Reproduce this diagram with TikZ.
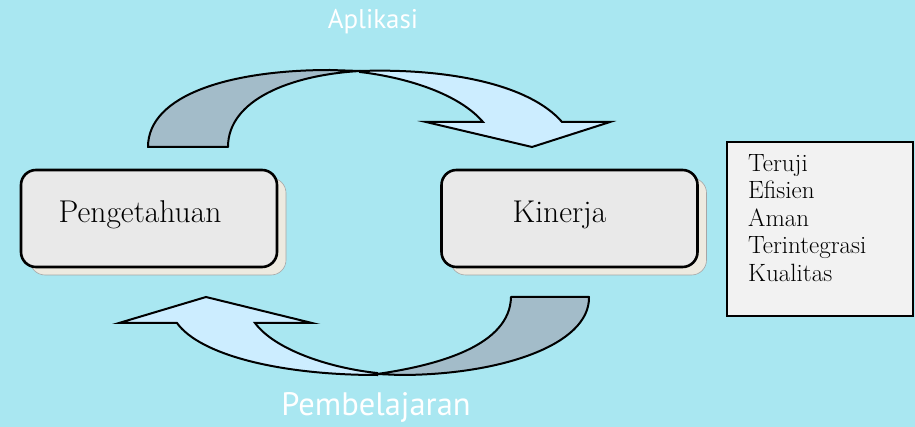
\documentclass[tikz,border=0pt]{standalone}
\usepackage{fontspec}
\newfontfamily\labfont{PT Sans}
\usetikzlibrary{shadows}
\definecolor{bgc}{HTML}{A9E7F1}
\definecolor{tailc}{HTML}{A3BCC9}
\definecolor{headc}{HTML}{CCEDFF}
\definecolor{boxc}{HTML}{E9E9E9}
\definecolor{shadc}{HTML}{EDEAE0}
\definecolor{listc}{HTML}{F2F2F2}
\tikzset{
  tailpart/.style={fill=tailc,draw=black,line width=2pt,line join=round},
  headpart/.style={fill=headc,draw=black,line width=2pt,line join=miter},
  mainbox/.style={draw=black,line width=2.6pt,fill=boxc,rounded corners=15pt,
    minimum width=256pt,minimum height=97pt,inner sep=0pt,
    drop shadow={shadow xshift=9pt,shadow yshift=-8pt,fill=shadc,draw=gray!70,line width=0.6pt,opacity=1}},
  boxtext/.style={font=\fontsize{31.5}{36}\selectfont},
  cyclelabel/.style={text=white,inner sep=0pt}
}
\begin{document}
\begin{tikzpicture}[x=1pt,y=-1pt]
\fill[bgc] (0,0) rectangle (915,427);
\useasboundingbox (0,0) rectangle (915,427);
% boxes
\node[mainbox,label={[boxtext,xshift=-9pt,yshift=4pt]center:Pengetahuan}] (peng) at (149,218.5) {};
\node[mainbox,label={[boxtext,xshift=-10pt,yshift=4pt]center:Kinerja}] (kin) at (569.5,218.5) {};
\node[draw=black,line width=2pt,fill=listc,minimum width=186pt,minimum height=174pt,inner sep=0pt] (list) at (819.5,229.5) {};
\node[anchor=north west,align=left,inner sep=0pt,font=\fontsize{25}{27.5}\selectfont] (listtext) at (748,154) {Teruji\\Efisien\\Aman\\Terintegrasi\\Kualitas};
% top arrow (Aplikasi)
\draw[tailpart] (148,147) .. controls (148,95) and (230,70) .. (330,70) -- (360,71)
  .. controls (290,75) and (228,100) .. (228,147) -- cycle;
\draw[headpart] (360,71) .. controls (450,68) and (530,85) .. (562,122) -- (610,122) -- (532,147)
  -- (426,122) -- (483,122) .. controls (460,95) and (410,78) .. (360,72) -- cycle;
% bottom arrow (Pembelajaran)
\draw[tailpart] (511,297) -- (589,297) .. controls (590,345) and (500,375) .. (400,375) -- (377,374)
  .. controls (440,365) and (510,345) .. (511,297) -- cycle;
\draw[headpart] (377,375) .. controls (280,375) and (200,355) .. (177,323) -- (119,323) -- (206,297)
  -- (312,323) -- (255,323) .. controls (275,350) and (330,368) .. (377,373) -- cycle;
% labels
\node[cyclelabel,font=\labfont\fontsize{27}{30}\selectfont] (apl) at (373,22) {Aplikasi};
\node[cyclelabel,font=\labfont\fontsize{32.5}{35}\selectfont] (pemb) at (376,407) {Pembelajaran};
\end{tikzpicture}
\end{document}
